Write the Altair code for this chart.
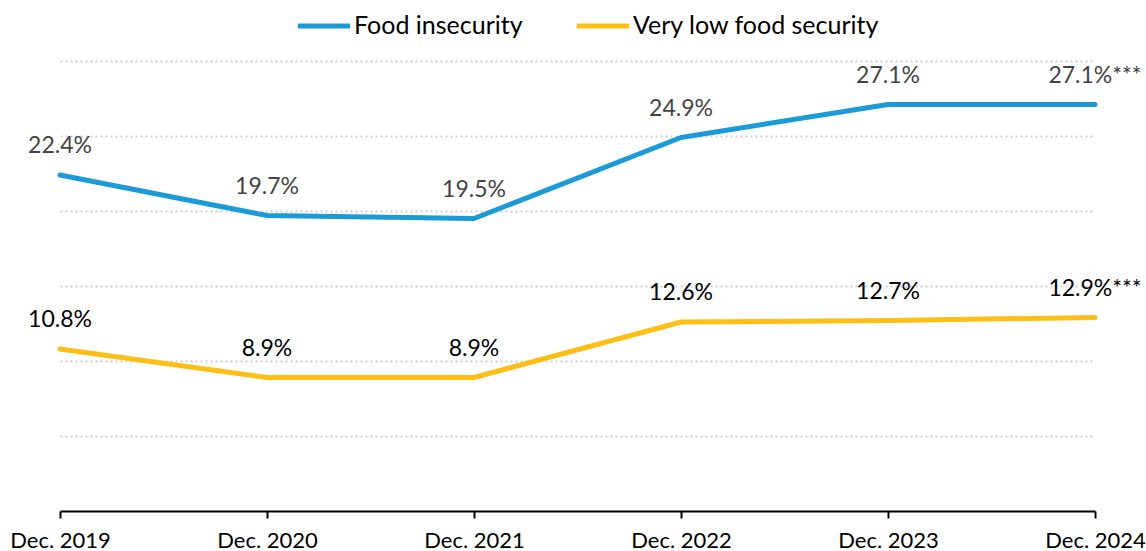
import altair as alt
import pandas as pd

dates = ["Dec. 2019", "Dec. 2020", "Dec. 2021", "Dec. 2022", "Dec. 2023", "Dec. 2024"]
food_insecurity = [22.4, 19.7, 19.5, 24.9, 27.1, 27.1]
very_low = [10.8, 8.9, 8.9, 12.6, 12.7, 12.9]
suffixes = ["", "", "", "", "", "***"]
series_names = ["Food insecurity", "Very low food security"]
series_colors = ["#1a9bd7", "#fdbf16"]
label_colors = ["#444444", "#000000"]

rows = []
for name, vals in zip(series_names, [food_insecurity, very_low]):
    for d, v, s in zip(dates, vals, suffixes):
        rows.append({"date": d, "series": name, "value": v, "label": f"{v:.1f}%{s}"})
df = pd.DataFrame(rows)

FONT = "Lato"

x_enc = alt.X("date:N", sort=dates, scale=alt.Scale(type="point", padding=0),
              axis=alt.Axis(title=None, labelAngle=0, labelFontSize=22, labelColor="#000",
                            labelFont=FONT, labelFontWeight="normal", domainColor="#000",
                            domainWidth=2, tickColor="#000", tickWidth=2, tickSize=7,
                            labelPadding=12, grid=False))
y_enc = alt.Y("value:Q", scale=alt.Scale(domain=[0, 30], nice=False, zero=True),
              axis=alt.Axis(title=None, labels=False, ticks=False, domain=False,
                            values=[5, 10, 15, 20, 25, 30], grid=True, gridColor="#cfcfcf",
                            gridDash=[2, 3], gridWidth=2))

base = alt.Chart(df)

lines = base.mark_line(strokeWidth=5, strokeCap="round", strokeJoin="round").encode(
    x=x_enc, y=y_enc,
    color=alt.Color("series:N", sort=series_names,
                    scale=alt.Scale(domain=series_names, range=series_colors),
                    legend=alt.Legend(title=None, orient="none", direction="horizontal",
                                      legendX=235, legendY=-64, labelFontSize=25,
                                      labelFont=FONT, labelColor="#000",
                                      labelFontWeight="normal", labelLimit=500,
                                      symbolType="stroke", symbolSize=2750,
                                      symbolStrokeWidth=5, labelOffset=1,
                                      columnPadding=43)),
)

texts = []
for name, col in zip(series_names, label_colors):
    texts.append(
        base.transform_filter(alt.datum.series == name)
        .mark_text(fontSize=23, font=FONT, color=col, baseline="alphabetic", dy=-22)
        .encode(x=alt.X("date:N", sort=dates), y="value:Q", text="label:N")
    )

chart = alt.layer(lines, *texts).properties(
    width=1035, height=450,
    autosize=alt.AutoSizeParams(type="none"),
    padding={"left": 60, "top": 61, "right": 51, "bottom": 40},
).configure(font=FONT).configure_view(stroke=None)

chart.save("out.html", embed_options={"renderer": "svg", "actions": False})
